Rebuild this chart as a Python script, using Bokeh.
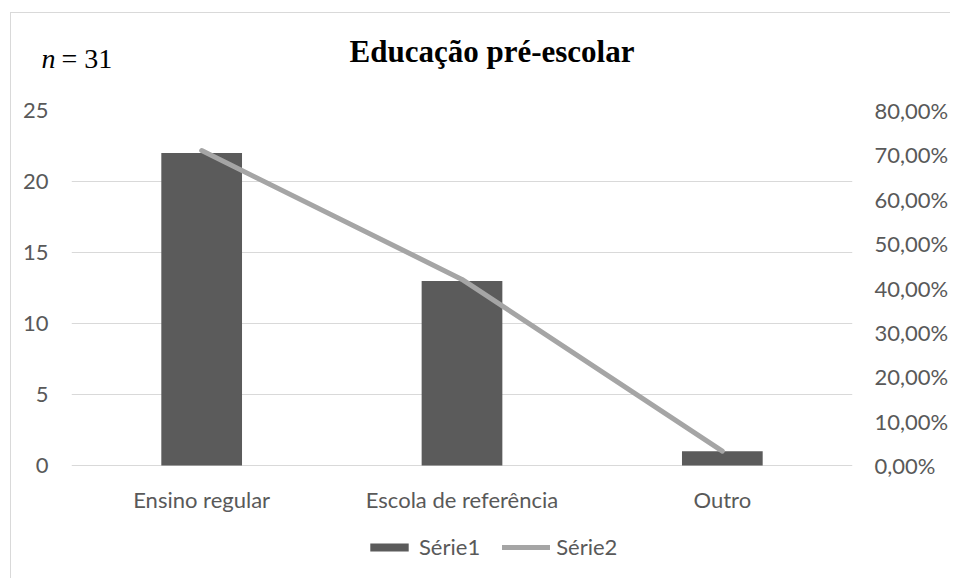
from bokeh.plotting import figure
from bokeh.models import (Range1d, LinearAxis, FixedTicker, CustomJSTickFormatter,
                          Label, Legend, LegendItem, FactorRange)
from bokeh.embed import file_html
from bokeh.resources import INLINE

# ---- data ----
categories = ["Ensino regular", "Escola de referência", "Outro"]
counts = [22, 13, 1]
percents = [0.7097, 0.4194, 0.0323]
left_ticks = [0, 5, 10, 15, 20, 25]
right_ticks = [0.0, 0.1, 0.2, 0.3, 0.4, 0.5, 0.6, 0.7, 0.8]
title_text = "Educação pré-escolar"
n_symbol = "n"
n_value_text = "= 31"
series_names = ["Série1", "Série2"]

TICK_COLOR = "#595959"
TICK_FONT = "Lato"
TICK_SIZE = "22px"
H = 566
FRAME_TOP = 97          # canvas px of value 25
ZERO_PX = 452           # canvas px of value 0
PX_PER_UNIT = (ZERO_PX - FRAME_TOP) / 25.0
Y_MIN = -(H - ZERO_PX) / PX_PER_UNIT   # frame extends below 0 to hold labels + legend
PCT_PER_UNIT = 0.8 / 25.0

p = figure(x_range=FactorRange(*categories), y_range=Range1d(Y_MIN, 25),
           width=940, height=H, output_backend="svg", toolbar_location=None,
           min_border_left=60, min_border_right=95, min_border_top=FRAME_TOP,
           min_border_bottom=0)
p.margin = (12, 0, 0, 10)
p.styles = {"border-left": "1px solid #d9d9d9", "border-top": "1px solid #d9d9d9"}
p.outline_line_color = None

p.xgrid.grid_line_color = None
p.ygrid.ticker = FixedTicker(ticks=left_ticks)
p.ygrid.grid_line_color = "#d9d9d9"
p.ygrid.grid_line_width = 1

ya = p.yaxis[0]
ya.ticker = FixedTicker(ticks=left_ticks)
ya.axis_line_color = None
ya.major_tick_line_color = None
ya.minor_tick_line_color = None
ya.major_tick_out = 0
ya.major_label_text_color = TICK_COLOR
ya.major_label_text_font = TICK_FONT
ya.major_label_text_font_size = TICK_SIZE
ya.major_label_standoff = 23

xa = p.xaxis[0]
xa.fixed_location = 0
xa.axis_line_color = None
xa.major_tick_line_color = None
xa.minor_tick_line_color = None
xa.major_tick_out = 0
xa.major_label_text_color = TICK_COLOR
xa.major_label_text_font = TICK_FONT
xa.major_label_text_font_size = TICK_SIZE
xa.major_label_standoff = 20

p.extra_y_ranges = {"pct": Range1d(Y_MIN * PCT_PER_UNIT, 0.8)}
ra = LinearAxis(y_range_name="pct", ticker=FixedTicker(ticks=right_ticks),
                formatter=CustomJSTickFormatter(
                    code="return (tick*100).toFixed(2).replace('.', ',') + '%';"))
ra.axis_line_color = None
ra.major_tick_line_color = None
ra.minor_tick_line_color = None
ra.major_tick_out = 0
ra.major_label_text_color = TICK_COLOR
ra.major_label_text_font = TICK_FONT
ra.major_label_text_font_size = TICK_SIZE
ra.major_label_standoff = 22
p.add_layout(ra, "right")

bars = p.vbar(x=categories, top=counts, width=0.31, fill_color="#5b5b5b",
              line_color=None)
line = p.line(x=categories, y=percents, y_range_name="pct", line_width=5,
              line_color="#a5a5a5", line_cap="round", line_join="round")

# header texts live in the "above" side panel, positioned in canvas pixels
title_label = Label(x=479.5, y=37, x_units="canvas", y_units="canvas",
                    text=title_text, text_align="center", text_baseline="alphabetic",
                    text_font="Liberation Serif", text_font_style="bold",
                    text_font_size="31px", text_color="black")
n_label = Label(x=29, y=44, x_units="canvas", y_units="canvas",
                text=n_symbol, text_align="left", text_baseline="alphabetic",
                text_font="Liberation Serif", text_font_style="italic",
                text_font_size="28px", text_color="black")
nval_label = Label(x=49, y=44, x_units="canvas", y_units="canvas",
                   text=n_value_text, text_align="left", text_baseline="alphabetic",
                   text_font="Liberation Serif", text_font_style="normal",
                   text_font_size="28px", text_color="black")
p.add_layout(title_label, "above")
p.add_layout(n_label, "above")
p.add_layout(nval_label, "above")

# legend inside the (extended) frame, below the category labels
legend = Legend(items=[LegendItem(label=series_names[0], renderers=[bars]),
                       LegendItem(label=series_names[1], renderers=[line])],
                orientation="horizontal", location=(294, 19),
                glyph_width=48, glyph_height=10, label_height=20,
                label_standoff=6, spacing=22, padding=0, margin=0,
                border_line_color=None, background_fill_alpha=0,
                label_text_font=TICK_FONT, label_text_font_size=TICK_SIZE,
                label_text_color=TICK_COLOR, label_text_baseline="middle")
p.add_layout(legend)

open("out.html", "w").write(file_html(p, INLINE))
